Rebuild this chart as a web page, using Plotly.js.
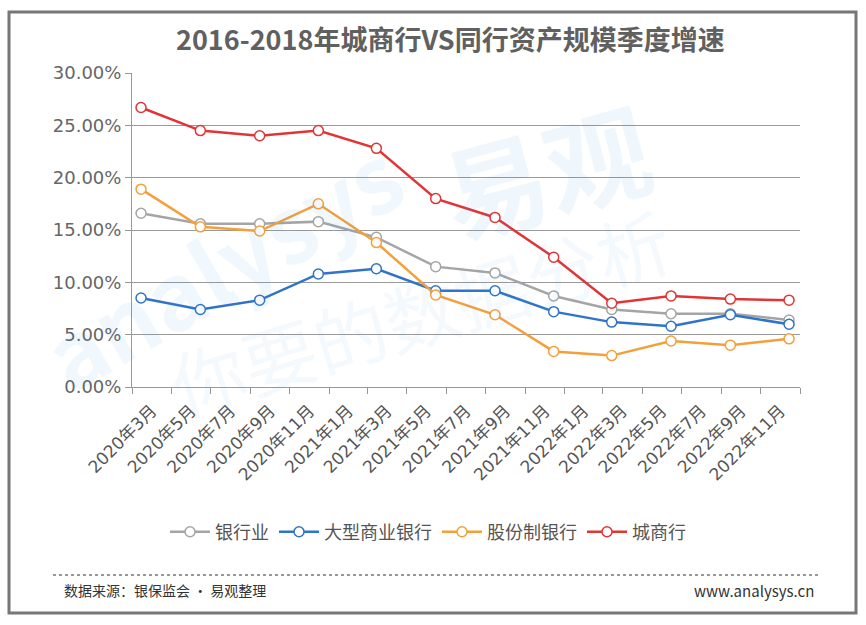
<!DOCTYPE html>
<html>
<head>
<meta charset="utf-8">
<script src="https://cdn.plot.ly/plotly-3.0.1.min.js"></script>
<style>
  body { margin: 0; background: #fff; }
  #chart { width: 866px; height: 625px; }
</style>
</head>
<body>
<div id="chart"></div>
<script>
// quarterly points (placed mid-month on a bi-monthly axis)
const quarters = ['2020-03-15', '2020-06-15', '2020-09-15', '2020-12-15',
                  '2021-03-15', '2021-06-15', '2021-09-15', '2021-12-15',
                  '2022-03-15', '2022-06-15', '2022-09-15', '2022-12-15'];

const seriesNames = ['银行业', '大型商业银行', '股份制银行', '城商行'];
const bankAll   = [16.6, 15.6, 15.6, 15.8, 14.3, 11.5, 10.9, 8.7, 7.4, 7.0, 7.0, 6.4];
const bigBanks  = [8.5, 7.4, 8.3, 10.8, 11.3, 9.2, 9.2, 7.2, 6.2, 5.8, 6.9, 6.0];
const jointBank = [18.9, 15.3, 14.9, 17.5, 13.8, 8.8, 6.9, 3.4, 3.0, 4.4, 4.0, 4.6];
const cityBank  = [26.7, 24.5, 24.0, 24.5, 22.8, 18.0, 16.2, 12.4, 8.0, 8.7, 8.4, 8.3];
const colors = ['#a5a5a5', '#2f74c8', '#f4a03a', '#e03535'];

const CJK = '"Noto Sans CJK SC", "Noto Sans", sans-serif';
const TICKFONT = '"DejaVu Sans", "Noto Sans CJK SC", sans-serif';

// plot box in pixels, used to place the frame and footer
const L = 132, R = 800, T = 73, B = 387;
const px = x => (x - L) / (R - L);
const py = y => (B - y) / (B - T);

const traces = [bankAll, bigBanks, jointBank, cityBank].map((vals, i) => ({
  x: quarters,
  y: vals,
  name: seriesNames[i],
  type: 'scatter',
  mode: 'lines+markers',
  line: { color: colors[i], width: 2.5 },
  marker: { symbol: 'circle', size: 10, color: '#fff', line: { color: colors[i], width: 1.5 } }
}));

const layout = {
  width: 866,
  height: 625,
  margin: { l: L, r: 866 - R, t: T, b: 625 - B },
  paper_bgcolor: '#fff',
  plot_bgcolor: '#fff',
  font: { family: CJK, color: '#555' },
  title: {
    text: '2016-2018年城商行VS同行资产规模季度增速',
    font: { family: CJK, size: 27, color: '#606060', weight: 'bold' },
    x: 0.52, xanchor: 'center', y: 0.935, yanchor: 'middle'
  },
  xaxis: {
    type: 'date',
    range: ['2020-03-01', '2023-01-01'],
    tick0: '2020-03-01',
    dtick: 'M2',
    tickformat: '%Y年%-m月',
    ticklabelmode: 'period',
    tickangle: -45,
    ticks: 'outside',
    ticklen: 6,
    tickcolor: '#999',
    showgrid: false,
    showline: true,
    linecolor: '#999',
    linewidth: 1,
    tickfont: { family: TICKFONT, size: 17, color: '#555' },
    fixedrange: true
  },
  yaxis: {
    range: [0, 30],
    dtick: 5,
    tickformat: '.2f',
    ticksuffix: '%',
    ticks: 'outside',
    ticklen: 6,
    tickcolor: '#999',
    showgrid: true,
    gridcolor: '#9a9a9a',
    gridwidth: 1,
    zeroline: false,
    showline: true,
    linecolor: '#999',
    tickfont: { family: TICKFONT, size: 18, color: '#666' },
    fixedrange: true
  },
  showlegend: true,
  legend: {
    orientation: 'h',
    x: px(428), xanchor: 'center',
    y: py(532), yanchor: 'middle',
    font: { family: CJK, size: 18, color: '#555' },
    itemwidth: 40
  },
  shapes: [
    // outer frame
    { type: 'rect', xref: 'paper', yref: 'paper',
      x0: px(9), x1: px(856), y0: py(12), y1: py(613),
      line: { color: '#777', width: 3 }, layer: 'above' },
    // dotted separator above the footer
    { type: 'line', xref: 'paper', yref: 'paper',
      x0: px(53), x1: px(818), y0: py(575), y1: py(575),
      line: { color: '#777', width: 1.5, dash: 'dot' } }
  ],
  annotations: [
    { text: '数据来源：银保监会 · 易观整理', xref: 'paper', yref: 'paper',
      x: px(62), y: py(590), xanchor: 'left', yanchor: 'middle', showarrow: false,
      font: { family: CJK, size: 14, color: '#333' } },
    { text: 'www.analysys.cn', xref: 'paper', yref: 'paper',
      x: px(816), y: py(590), xanchor: 'right', yanchor: 'middle', showarrow: false,
      font: { family: CJK, size: 15, color: '#333' } },
    // faint watermark
    { text: 'analysys', xref: 'paper', yref: 'paper', x: px(220), y: py(262),
      xanchor: 'center', yanchor: 'middle', showarrow: false, textangle: -30,
      font: { family: CJK, size: 92, color: 'rgba(60,150,220,0.07)', weight: 'bold' } },
    { text: '易观', xref: 'paper', yref: 'paper', x: px(545), y: py(168),
      xanchor: 'center', yanchor: 'middle', showarrow: false, textangle: -15,
      font: { family: CJK, size: 105, color: 'rgba(60,150,220,0.08)', weight: 'bold' } },
    { text: '你要的数据分析', xref: 'paper', yref: 'paper', x: px(420), y: py(310),
      xanchor: 'center', yanchor: 'middle', showarrow: false, textangle: -17,
      font: { family: CJK, size: 74, color: 'rgba(60,150,220,0.06)' } }
  ]
};

Plotly.newPlot('chart', traces, layout, { displayModeBar: false, staticPlot: true });
</script>
</body>
</html>
